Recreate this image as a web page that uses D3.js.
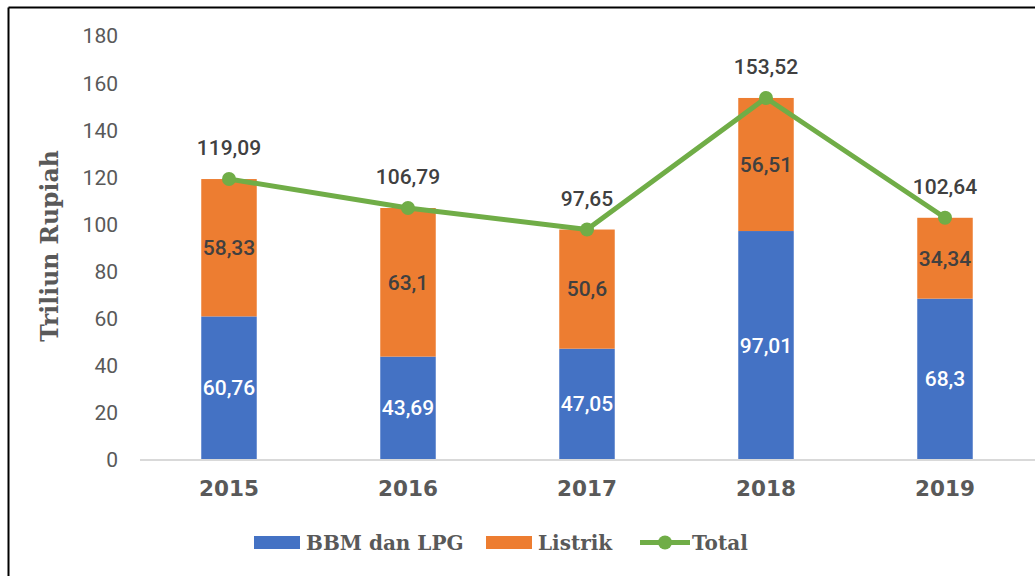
<!DOCTYPE html>
<html><head><meta charset="utf-8">
<script src="https://cdn.jsdelivr.net/npm/d3@7"></script>
<style>body{margin:0;background:#fff}svg{display:block}</style>
</head><body>
<svg id="c" width="1035" height="576"></svg>
<script>
const years = ["2015","2016","2017","2018","2019"];
const bbm = [60.76, 43.69, 47.05, 97.01, 68.3];
const listrik = [58.33, 63.1, 50.6, 56.51, 34.34];
const total = [119.09, 106.79, 97.65, 153.52, 102.64];
const yTicks = [0,20,40,60,80,100,120,140,160,180];
const seriesNames = ["BBM dan LPG","Listrik","Total"];

const svg = d3.select("#c");
const fmt = v => String(v).replace(".", ",");
const slab = "'DejaVu Serif', serif";
const sans = "Roboto, 'Liberation Sans', sans-serif";

// frame
svg.append("line").attr("x1",8.5).attr("y1",7.5).attr("x2",1035).attr("y2",7.5).attr("stroke","#000").attr("stroke-width",2);
svg.append("line").attr("x1",8.5).attr("y1",7.5).attr("x2",8.5).attr("y2",576).attr("stroke","#000").attr("stroke-width",2);

const x = d3.scaleBand().domain(years).range([139.5,1034.5]).paddingInner(0.69).paddingOuter(0.345);
const y = d3.scaleLinear().domain([0,180]).range([459.5,35.6]);

// y tick labels
const yAxis = d3.axisLeft(y).tickValues(yTicks).tickSize(0).tickPadding(0);
const ga = svg.append("g").attr("transform","translate(118,0)").call(yAxis);
ga.select(".domain").remove();
ga.selectAll("text").attr("font-family",sans).attr("font-size",21).attr("fill","#595959").attr("dy","0.35em");

// bars
const colors = ["#4472C4","#ED7D31"];
svg.append("g").selectAll("rect.b").data(years).join("rect")
  .attr("x",d=>x(d)).attr("width",x.bandwidth())
  .attr("y",(d,i)=>y(bbm[i])).attr("height",(d,i)=>y(0)-y(bbm[i]))
  .attr("fill",colors[0]);
svg.append("g").selectAll("rect.l").data(years).join("rect")
  .attr("x",d=>x(d)).attr("width",x.bandwidth())
  .attr("y",(d,i)=>y(bbm[i]+listrik[i])).attr("height",(d,i)=>y(bbm[i])-y(bbm[i]+listrik[i]))
  .attr("fill",colors[1]);

// x axis
const xAxis = d3.axisBottom(x).tickSize(0).tickPadding(0);
const gx = svg.append("g").attr("transform","translate(0,459.5)").call(xAxis);
gx.select(".domain").attr("stroke","#D9D9D9").attr("stroke-width",2);
gx.selectAll("text").attr("font-family","'DejaVu Sans', sans-serif").attr("font-weight","bold").attr("font-size",21.5).attr("fill","#595959").attr("dy","1.7em");

// segment labels
svg.append("g").selectAll("text").data(years).join("text")
  .attr("x",d=>x(d)+x.bandwidth()/2).attr("y",(d,i)=>y(bbm[i]/2))
  .attr("dy","0.35em").attr("text-anchor","middle")
  .attr("font-family",sans).attr("font-size",21).attr("font-weight",500).attr("fill","#fff").text((d,i)=>fmt(bbm[i]));
svg.append("g").selectAll("text").data(years).join("text")
  .attr("x",d=>x(d)+x.bandwidth()/2).attr("y",(d,i)=>y(bbm[i]+listrik[i]/2))
  .attr("dy","0.35em").attr("text-anchor","middle")
  .attr("font-family",sans).attr("font-size",21).attr("font-weight",500).attr("fill","#404040").text((d,i)=>fmt(listrik[i]));

// total line
const cx = d=>x(d)+x.bandwidth()/2;
const line = d3.line().x((d,i)=>cx(years[i])).y(d=>y(d));
svg.append("path").datum(total).attr("d",line).attr("fill","none").attr("stroke","#70AD47").attr("stroke-width",5).attr("stroke-linejoin","round");
svg.append("g").selectAll("circle").data(total).join("circle")
  .attr("cx",(d,i)=>cx(years[i])).attr("cy",d=>y(d)).attr("r",7).attr("fill","#70AD47");
svg.append("g").selectAll("text").data(total).join("text")
  .attr("x",(d,i)=>cx(years[i])).attr("y",d=>y(d)-31)
  .attr("dy","0.35em").attr("text-anchor","middle")
  .attr("font-family",sans).attr("font-size",21).attr("font-weight",500).attr("fill","#404040").text(d=>fmt(d));

// y title
svg.append("text").attr("transform","translate(58,246) rotate(-90)").attr("text-anchor","middle")
  .attr("font-family",slab).attr("font-weight","bold").attr("font-size",23.5).attr("fill","#595959").text("Triliun Rupiah");

// legend
const lg = svg.append("g");
const items = [{x:254,t:seriesNames[0],type:"rect",c:colors[0]},{x:486,t:seriesNames[1],type:"rect",c:colors[1]},{x:640,t:seriesNames[2],type:"line",c:"#70AD47"}];
items.forEach(it=>{
  if(it.type==="rect"){
    lg.append("rect").attr("x",it.x).attr("y",536).attr("width",46).attr("height",13).attr("fill",it.c);
  } else {
    lg.append("line").attr("x1",it.x).attr("x2",it.x+50).attr("y1",542.5).attr("y2",542.5).attr("stroke",it.c).attr("stroke-width",5);
    lg.append("circle").attr("cx",it.x+25).attr("cy",542.5).attr("r",7).attr("fill",it.c);
  }
  lg.append("text").attr("x",it.x+52).attr("y",542.5).attr("dy","0.35em")
    .attr("font-family",slab).attr("font-weight","bold").attr("font-size",20).attr("fill","#595959").text(it.t);
});
</script>
</body></html>
